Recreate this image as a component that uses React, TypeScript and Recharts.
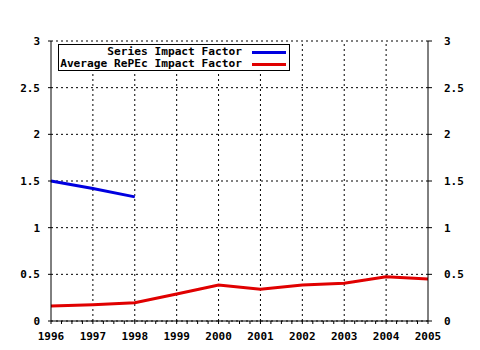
import { LineChart, Line, XAxis, YAxis, CartesianGrid, Legend, ReferenceLine } from "recharts"

const YEARS = [1996, 1997, 1998, 1999, 2000, 2001, 2002, 2003, 2004, 2005]
const SERIES_IF = [1.5, 1.42, 1.33]
const AVG_REPEC_IF = [0.16, 0.175, 0.195, 0.29, 0.385, 0.34, 0.385, 0.405, 0.475, 0.45]
const Y_TICKS = [0, 0.5, 1, 1.5, 2, 2.5, 3]
const LEGEND_ORDER = ["Series Impact Factor", "Average RePEc Impact Factor"]

const FONT = "'DejaVu Sans Mono', monospace"

const data = YEARS.map((year, i) => ({
  year,
  sif: SERIES_IF[i],
  avg: AVG_REPEC_IF[i],
}))

// quarter-year minor ticks on the x axes
const X_TICKS = YEARS.flatMap((y, i) =>
  i < YEARS.length - 1 ? [y, y + 0.25, y + 0.5, y + 0.75] : [y]
)

const tickStyle = { fontFamily: FONT, fontSize: 11, fontWeight: "bold", fill: "#000" }

function RightTick({ x, y, payload }: any) {
  return (
    <text x={x + 12} y={y} dy="0.355em" textAnchor="start" {...tickStyle}>
      {payload.value}
    </text>
  )
}

function BoxLegend({ payload }: any) {
  const items = [...(payload ?? [])]
    .filter((p: any) => LEGEND_ORDER.includes(p.value))
    .sort((a: any, b: any) => LEGEND_ORDER.indexOf(a.value) - LEGEND_ORDER.indexOf(b.value))
  return (
    <div
      style={{
        border: "1px solid #000",
        background: "#fff",
        width: 232,
        height: 27,
        boxSizing: "border-box",
        padding: "1px 3px 0 0",
        fontFamily: FONT,
        fontSize: 11.2,
        fontWeight: "bold",
        lineHeight: "12px",
        color: "#000",
        overflow: "hidden",
      }}
    >
      {items.map((p: any) => (
        <div
          key={p.value}
          style={{ display: "flex", justifyContent: "flex-end", alignItems: "center", whiteSpace: "nowrap", height: 12 }}
        >
          <span>{p.value}</span>
          <span style={{ display: "inline-block", width: 34, height: 3, background: p.color, marginLeft: 10 }} />
        </div>
      ))}
    </div>
  )
}

export default function App() {
  return (
    <div style={{ position: "absolute", left: 0, top: 0, width: 480, height: 350, background: "#fff" }}>
      <LineChart width={480} height={350} data={data} margin={{ top: 41, right: 0, left: 0, bottom: 0 }}>
        <CartesianGrid vertical={false} stroke="#000" strokeDasharray="2 3" yAxisId="l" xAxisId="b" />
        {YEARS.slice(1, -1).map((y) => (
          <ReferenceLine key={y} x={y} xAxisId="b" yAxisId="l" stroke="#000" strokeDasharray="2 3" />
        ))}
        <XAxis
          xAxisId="b"
          dataKey="year"
          type="number"
          domain={[1996, 2005]}
          ticks={X_TICKS}
          interval={0}
          height={29}
          tickSize={3}
          tickMargin={8}
          tick={tickStyle}
          tickFormatter={(v: number) => (Number.isInteger(v) ? String(v) : "")}
          axisLine={{ stroke: "#000" }}
          tickLine={{ stroke: "#000" }}
        />
        <XAxis
          xAxisId="t"
          orientation="top"
          dataKey="year"
          type="number"
          domain={[1996, 2005]}
          ticks={X_TICKS}
          interval={0}
          height={0}
          tickSize={3}
          tick={tickStyle}
          tickFormatter={() => ""}
          axisLine={{ stroke: "#000" }}
          tickLine={{ stroke: "#000" }}
        />
        <YAxis
          yAxisId="l"
          domain={[0, 3]}
          ticks={Y_TICKS}
          interval={0}
          width={51}
          tickSize={3}
          tickMargin={8}
          tick={tickStyle}
          axisLine={{ stroke: "#000" }}
          tickLine={{ stroke: "#000" }}
        />
        <YAxis
          yAxisId="r"
          orientation="right"
          domain={[0, 3]}
          ticks={Y_TICKS}
          interval={0}
          width={52}
          tickSize={4}
          tickMargin={0}
          tick={<RightTick />}
          axisLine={{ stroke: "#000" }}
          tickLine={{ stroke: "#000" }}
        />
        <Legend
          layout="vertical"
          align="center"
          verticalAlign="middle"
          content={<BoxLegend />}
          wrapperStyle={{ position: "absolute", left: 58, top: 44, width: "auto" }}
        />
        {/* invisible series so the right and top axes get ticks */}
        <Line
          xAxisId="t"
          yAxisId="r"
          type="linear"
          dataKey="avg"
          stroke="none"
          strokeWidth={0}
          dot={false}
          activeDot={false}
          legendType="none"
          isAnimationActive={false}
        />
        <Line
          xAxisId="b"
          yAxisId="l"
          type="linear"
          dataKey="sif"
          name="Series Impact Factor"
          stroke="#0000e0"
          strokeWidth={3}
          dot={false}
          isAnimationActive={false}
        />
        <Line
          xAxisId="b"
          yAxisId="l"
          type="linear"
          dataKey="avg"
          name="Average RePEc Impact Factor"
          stroke="#e00000"
          strokeWidth={3}
          dot={false}
          isAnimationActive={false}
        />
      </LineChart>
    </div>
  )
}
